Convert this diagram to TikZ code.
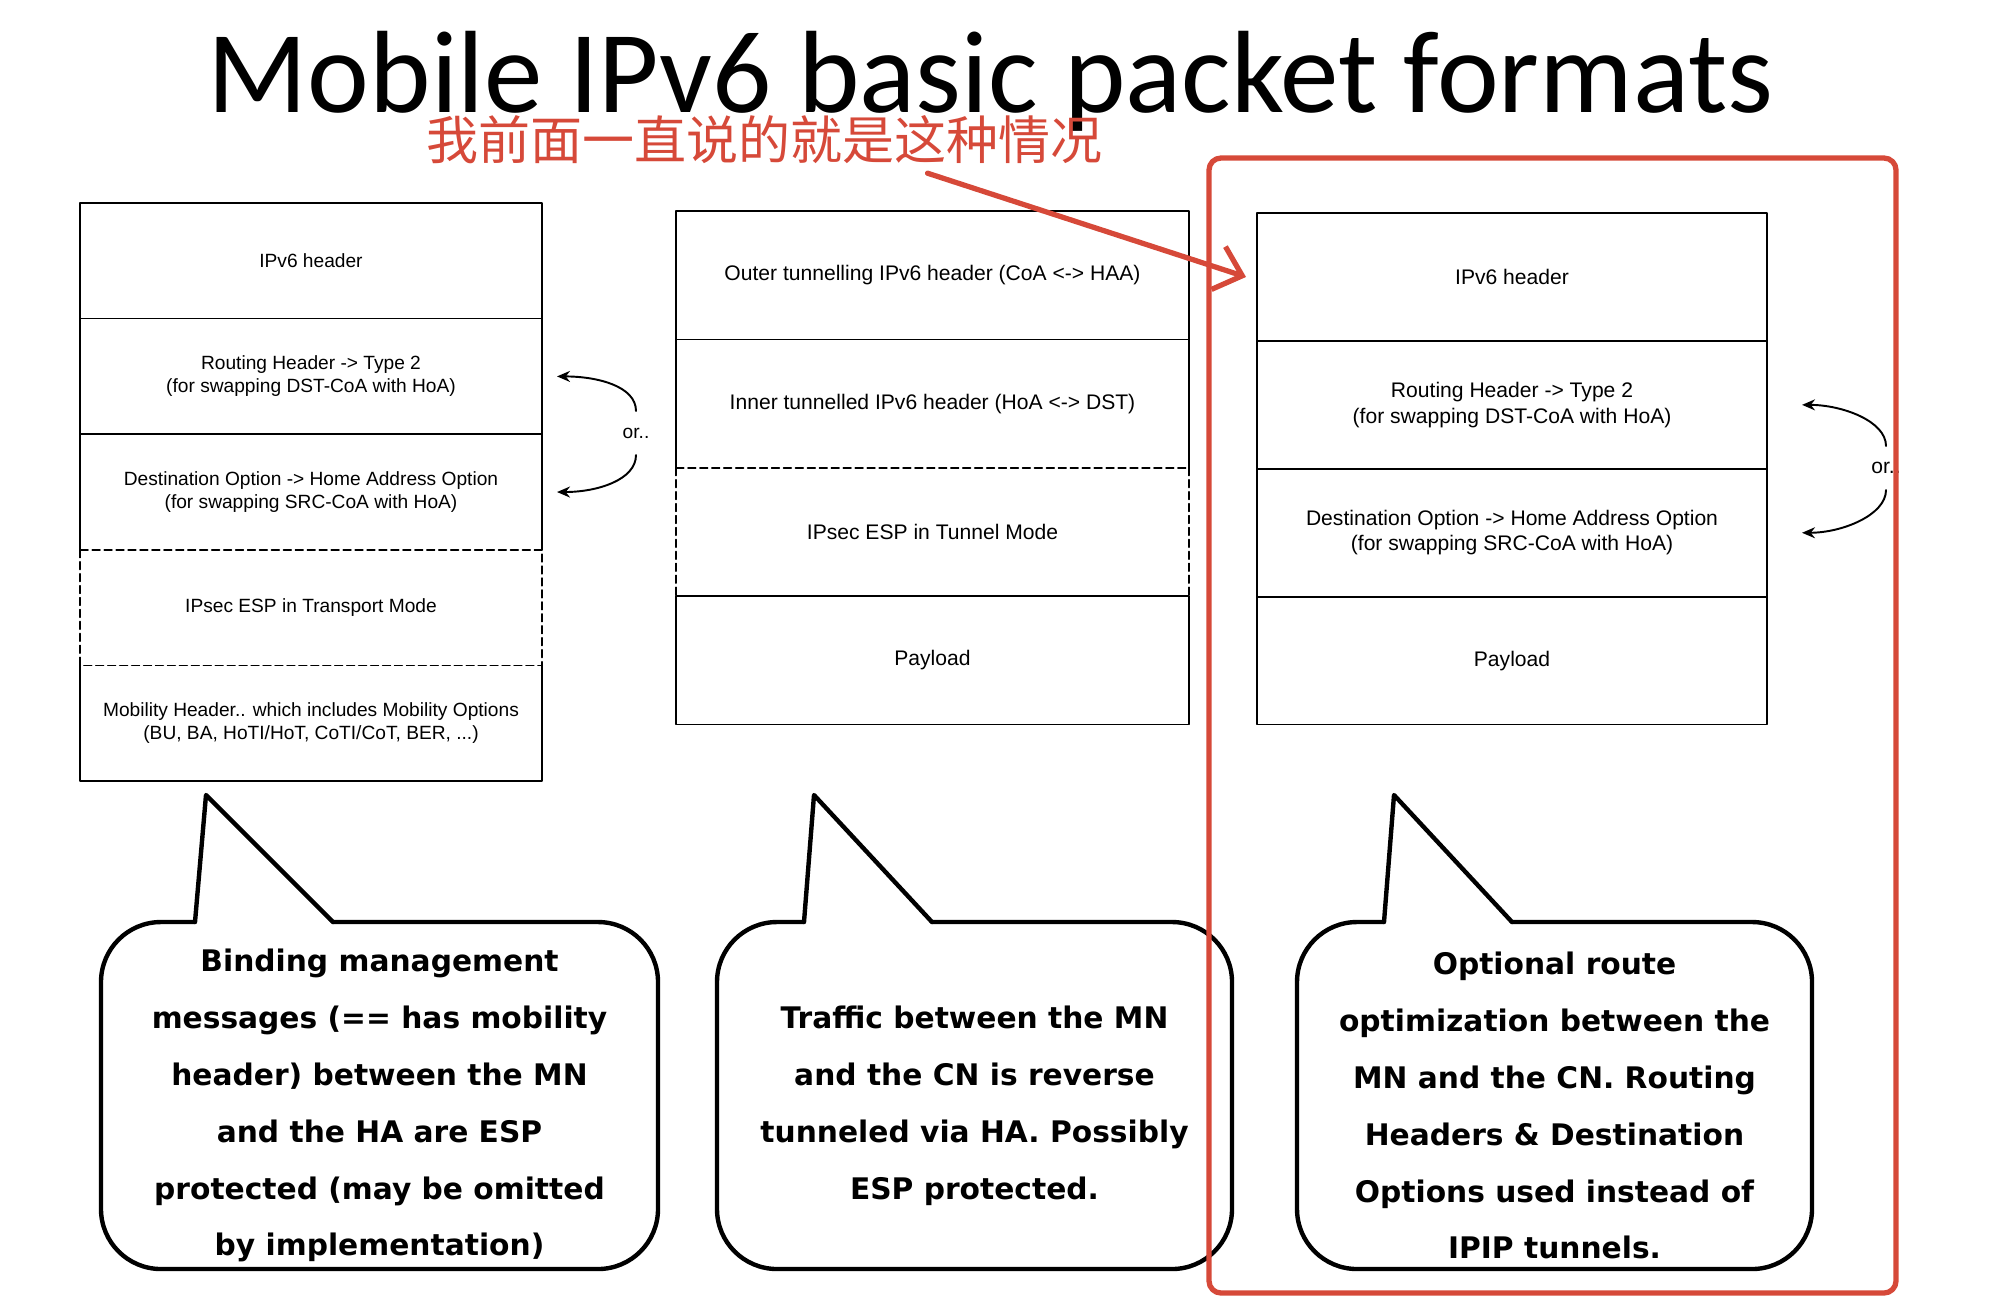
\documentclass[tikz,border=0pt]{standalone}
\usepackage{fontspec}
\setmainfont{Liberation Sans}
\newfontfamily\titlefont{Carlito}
\newfontfamily\cjkfont{Noto Sans CJK SC}
\newfontfamily\bubblefont{DejaVu Sans}
\usetikzlibrary{positioning,arrows.meta}

\definecolor{notered}{RGB}{214,73,57}

\begin{document}
\begin{tikzpicture}[
  line cap=round,
  line join=round,
  every node/.style={inner sep=0pt, outer sep=0pt},
  lcell/.style={minimum width=4.62cm, minimum height=1.156cm, align=center,
    font=\fontsize{5.45}{6.55}\selectfont},
  mcell/.style={minimum width=5.13cm, minimum height=1.284cm, align=center,
    font=\fontsize{6}{7.25}\selectfont},
  rcell/.style={minimum width=5.10cm, minimum height=1.279cm, align=center,
    font=\fontsize{6}{7.25}\selectfont},
  frame/.style={line width=0.45pt},
  dashframe/.style={line width=0.45pt, dash pattern=on 2.2pt off 1.2pt},
  ortext/.style={minimum height=0.44cm},
  orarrow/.style={line width=0.55pt, -{Stealth[length=1.3mm,width=1.1mm]}},
  bubble/.style={draw, line width=1.25pt, rounded corners=0.6cm, fill=white,
    minimum height=3.47cm},
  bubbletext/.style={align=center,
    font=\bubblefont\bfseries\fontsize{8.45}{16.2}\selectfont},
  tail/.style={line width=1.25pt},
  redarrow/.style={draw=notered, line width=1.5pt,
    -{Straight Barb[length=2.5mm,width=4.5mm]}},
  redbox/.style={draw=notered, line width=1.5pt, rounded corners=0.12cm}
]
  \useasboundingbox (0,0) rectangle (20.04,-13.12);

  % Title
  \node[font=\titlefont\fontsize{33.3}{40}\selectfont, anchor=base]
    (title) at (9.905,-1.12) {Mobile IPv6 basic packet formats};
  \node[font=\cjkfont\fontsize{14.8}{17}\selectfont, text=notered]
    (cn) at (7.645,-1.40) {我前面一直说的就是这种情况};

  % Left packet: binding management
  \node[lcell] (lip) at (3.11,-2.608) {IPv6 header};
  \node[lcell, below=0pt of lip] (lrt)
    {Routing Header -> Type 2\\(for swapping DST-CoA with HoA)};
  \node[lcell, below=0pt of lrt] (ldo)
    {Destination Option -> Home Address Option\\(for swapping SRC-CoA with HoA)};
  \node[lcell, below=0pt of ldo] (lesp) {IPsec ESP in Transport Mode};
  \node[lcell, below=0pt of lesp] (lmh)
    {Mobility Header.. which includes Mobility Options\\(BU, BA, HoTI/HoT, CoTI/CoT, BER, ...)};

  \draw[frame] (ldo.south west) |- (lip.north east) -- (ldo.south east);
  \draw[frame] (lip.south west) -- (lip.south east)
    (lrt.south west) -- (lrt.south east);
  \draw[dashframe] (ldo.south west) rectangle (lesp.south east);
  \draw[frame] (lmh.north west) |- (lmh.south east) -- (lmh.north east);

  \node[ortext, font=\fontsize{5.45}{6.55}\selectfont] (lor) at (6.36,-4.33) {or..};
  \draw[orarrow] (lor.north) .. controls +(0,0.25) and +(0.4,0) ..
    ([xshift=0.15cm]lrt.east);
  \draw[orarrow] (lor.south) .. controls +(0,-0.25) and +(0.4,0) ..
    ([xshift=0.15cm]ldo.east);

  % Middle packet: reverse tunnel
  \node[mcell] (mout) at (9.325,-2.752)
    {Outer tunnelling IPv6 header (CoA <-> HAA)};
  \node[mcell, below=0pt of mout] (min)
    {Inner tunnelled IPv6 header (HoA <-> DST)};
  \node[mcell, below=0pt of min] (mesp) {IPsec ESP in Tunnel Mode};
  \node[mcell, below=0pt of mesp] (mpl) {Payload};

  \draw[frame] (min.south west) |- (mout.north east) -- (min.south east);
  \draw[frame] (mout.south west) -- (mout.south east);
  \draw[dashframe] (min.south west) -- (mesp.south west)
    (min.south east) -- (mesp.south east)
    (min.south west) -- (min.south east);
  \draw[frame] (mpl.north west) rectangle (mpl.south east);

  % Right packet: route optimization
  \node[rcell] (rip) at (15.12,-2.7695) {IPv6 header};
  \node[rcell, below=0pt of rip] (rrt)
    {Routing Header -> Type 2\\(for swapping DST-CoA with HoA)};
  \node[rcell, below=0pt of rrt] (rdo)
    {Destination Option -> Home Address Option\\(for swapping SRC-CoA with HoA)};
  \node[rcell, below=0pt of rdo] (rpl) {Payload};

  \draw[frame] (rip.north west) rectangle (rpl.south east);
  \draw[frame] (rip.south west) -- (rip.south east)
    (rrt.south west) -- (rrt.south east)
    (rdo.south west) -- (rdo.south east);

  \node[ortext, font=\fontsize{6}{7.25}\selectfont] (ror) at (18.86,-4.68) {or..};
  \draw[orarrow] (ror.north) .. controls +(0,0.25) and +(0.4,0) ..
    ([xshift=0.35cm]rrt.east);
  \draw[orarrow] (ror.south) .. controls +(0,-0.25) and +(0.4,0) ..
    ([xshift=0.35cm]rdo.east);

  % Speech bubbles
  \node[bubble, minimum width=5.57cm] (b1) at (3.795,-10.955) {};
  \fill[white] ([shift={(0.94,-0.03)}]b1.north west)
    -- ([shift={(1.05,1.27)}]b1.north west)
    -- ([shift={(2.32,-0.03)}]b1.north west) -- cycle;
  \draw[tail] ([shift={(0.94,0)}]b1.north west)
    -- ([shift={(1.05,1.27)}]b1.north west)
    -- ([shift={(2.32,0)}]b1.north west);
  \node[bubbletext] (t1) at ([yshift=-0.1cm]b1.center)
    {Binding management\\messages (== has mobility\\header) between the MN\\
     and the HA are ESP\\protected (may be omitted\\by implementation)};

  \node[bubble, minimum width=5.15cm] (b2) at (9.745,-10.955) {};
  \fill[white] ([shift={(0.87,-0.03)}]b2.north west)
    -- ([shift={(0.97,1.27)}]b2.north west)
    -- ([shift={(2.15,-0.03)}]b2.north west) -- cycle;
  \draw[tail] ([shift={(0.87,0)}]b2.north west)
    -- ([shift={(0.97,1.27)}]b2.north west)
    -- ([shift={(2.15,0)}]b2.north west);
  \node[bubbletext] (t2) at ([yshift=-0.1cm]b2.center)
    {Traffic between the MN\\and the CN is reverse\\tunneled via HA. Possibly\\
     ESP protected.};

  \node[bubble, minimum width=5.15cm] (b3) at (15.545,-10.955) {};
  \fill[white] ([shift={(0.87,-0.03)}]b3.north west)
    -- ([shift={(0.97,1.27)}]b3.north west)
    -- ([shift={(2.15,-0.03)}]b3.north west) -- cycle;
  \draw[tail] ([shift={(0.87,0)}]b3.north west)
    -- ([shift={(0.97,1.27)}]b3.north west)
    -- ([shift={(2.15,0)}]b3.north west);
  \node[bubbletext] (t3) at ([yshift=-0.1cm]b3.center)
    {Optional route\\optimization between the\\MN and the CN. Routing\\
     Headers \& Destination\\Options used instead of\\IPIP tunnels.};

  % Highlight
  \draw[redarrow] ([xshift=1.63cm,yshift=-0.09cm]cn.south)
    -- ([xshift=-0.11cm]rip.west);
  \draw[redbox] (12.09,-1.58) rectangle (18.96,-12.93);
\end{tikzpicture}
\end{document}
